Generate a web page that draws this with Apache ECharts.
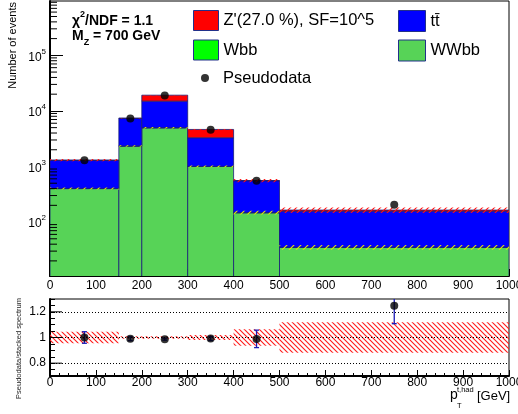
<!DOCTYPE html>
<html>
<head>
<meta charset="utf-8">
<script src="https://cdn.jsdelivr.net/npm/echarts@6/dist/echarts.min.js"></script>
<style>
html, body { margin: 0; padding: 0; background: #fff; overflow: hidden; }
#chart { width: 518px; height: 414px; }
</style>
</head>
<body>
<div id="chart"></div>
<script>
// Bin edges in p_T^{t,had} [GeV]
const binEdges = [0, 150, 200, 300, 400, 500, 1000];

// Stacked yields per bin (bottom to top)
const wwbbYield   = [400, 2330, 4970, 1000, 147, 35];
const wbbYield    = [3, 12, 25, 6, 1, 0.3];
const ttbarYield  = [885, 4990, 10000, 2274, 405, 121];
const zprimeYield = [12, 70, 4200, 1360, 6, 8];

// Pseudodata (bin centres and counts)
const dataX     = [75, 175, 250, 350, 450, 750];
const dataYield = [1300, 7330, 18950, 4600, 553, 205];

// Relative uncertainty bands
const wwbbBandRel  = [0.04, 0.03, 0.03, 0.04, 0.08, 0.10];
const totalBandRel = [0.045, 0.01, 0.01, 0.02, 0.065, 0.118];

// Statistical error on the ratio points
const ratioErr = [0.045, 0.015, 0.008, 0.015, 0.068, 0.14];

// Axis ranges and labelled ratio ticks
const yMin = 10.7, yMax = 9.5e5;
const ratioMin = 0.7, ratioMax = 1.3;
const ratioLabels = [0.8, 1, 1.2];

const FONT = "'Liberation Sans', Arial, Helvetica, sans-serif";
const nBins = binEdges.length - 1;

// ---- derived stacks ----
function stackLayer(values, below) {
  const out = [];
  for (let i = 0; i < nBins; i++) {
    const lo = below ? below[i] : yMin * 0.5;
    out.push([binEdges[i], binEdges[i + 1], lo, (below ? below[i] : 0) + values[i]]);
  }
  return out;
}
const layerWWbb = stackLayer(wwbbYield, null);
const topWWbb = layerWWbb.map(d => d[3]);
const layerWbb = stackLayer(wbbYield, topWWbb);
const topWbb = layerWbb.map(d => d[3]);
const layerTt = stackLayer(ttbarYield, topWbb);
const topTt = layerTt.map(d => d[3]);
const layerZ = stackLayer(zprimeYield, topTt);
const total = layerZ.map(d => d[3]);

const bandWWbb = topWbb.map((v, i) => [binEdges[i], binEdges[i + 1], v * (1 - wwbbBandRel[i]), v * (1 + wwbbBandRel[i])]);
const bandTotal = total.map((v, i) => [binEdges[i], binEdges[i + 1], v * (1 - totalBandRel[i]), v * (1 + totalBandRel[i])]);
const ratioBand = totalBandRel.map((r, i) => [binEdges[i], binEdges[i + 1], 1 - r, 1 + r]);
const ratioPts = dataX.map((x, i) => [x, dataYield[i] / total[i]]);
const ratioErrPts = ratioPts.map((p, i) => [p[0], p[1] - ratioErr[i], p[1] + ratioErr[i]]);

// minor ticks of the log axis: 2..9 x 10^n
const logMinor = [];
for (let e = 1; e <= 5; e++) {
  for (let k = 2; k <= 9; k++) {
    const v = k * Math.pow(10, e);
    if (v > yMin && v < yMax) logMinor.push([0, v]);
  }
}

// hatch pattern tiles
function hatch(color, size, forward) {
  const c = document.createElement('canvas');
  c.width = c.height = size;
  const g = c.getContext('2d');
  g.strokeStyle = color;
  g.lineWidth = 1.1;
  g.beginPath();
  if (forward) {
    g.moveTo(0, size); g.lineTo(size, 0);
    g.moveTo(-1, 1); g.lineTo(1, -1);
    g.moveTo(size - 1, size + 1); g.lineTo(size + 1, size - 1);
  } else {
    g.moveTo(0, 0); g.lineTo(size, size);
    g.moveTo(size - 1, -1); g.lineTo(size + 1, 1);
    g.moveTo(-1, size - 1); g.lineTo(1, size + 1);
  }
  g.stroke();
  return c;
}
const yellowHatch = hatch('#e6e600', 7, true);
const redHatchMain = hatch('#ff1010', 6, true);
const redHatchRatio = hatch('#ff1a1a', 5, false);

function rectRender(styleFn) {
  return function (params, api) {
    const a = api.coord([api.value(0), api.value(3)]);
    const b = api.coord([api.value(1), api.value(2)]);
    return {
      type: 'rect',
      shape: { x: a[0], y: a[1], width: b[0] - a[0], height: b[1] - a[1] },
      style: styleFn(api)
    };
  };
}
const stackStyle = api => ({ fill: api.visual('color'), stroke: 'rgba(25,30,120,0.8)', lineWidth: 1 });

function stackSeries(name, color, data, z) {
  return {
    name: name, type: 'custom', xAxisIndex: 0, yAxisIndex: 0,
    itemStyle: { color: color }, clip: true, z: z,
    encode: { x: [0, 1], y: [2, 3] },
    renderItem: rectRender(stackStyle),
    data: data
  };
}

const chart = echarts.init(document.getElementById('chart'), null, { renderer: 'canvas', width: 518, height: 414 });

const axisText = { color: '#000', fontFamily: FONT, fontSize: 12 };
const legendText = { color: '#000', fontFamily: FONT, fontSize: 16.5, lineHeight: 20 };
const legendBorder = { borderColor: '#22308a', borderWidth: 1 };
const zName = "Z'(27.0 %), SF=10^5";
const ttName = 't\u0074\u0304';
const plainNum = v => String(Math.round(v));

chart.setOption({
  animation: false,
  backgroundColor: '#fff',
  textStyle: { fontFamily: FONT },
  grid: [
    { left: 50, right: 9, top: 1, height: 275, show: true, borderColor: '#000', borderWidth: 1, containLabel: false, outerBoundsMode: 'none' },
    { left: 50, right: 9, top: 299, height: 77, show: true, borderColor: '#000', borderWidth: 1, containLabel: false, outerBoundsMode: 'none' }
  ],
  legend: [
    {
      left: 188, top: 5, orient: 'vertical', itemWidth: 25, itemHeight: 20, itemGap: 8.5,
      textStyle: legendText, selectedMode: false,
      data: [
        { name: zName, icon: 'rect', itemStyle: legendBorder },
        { name: 'Wbb', icon: 'rect', itemStyle: legendBorder }
      ]
    },
    {
      left: 393, top: 5, orient: 'vertical', itemWidth: 27, itemHeight: 21, itemGap: 7.5,
      textStyle: legendText, selectedMode: false,
      data: [
        { name: ttName, icon: 'rect', itemStyle: legendBorder },
        { name: 'WWbb', icon: 'rect', itemStyle: legendBorder }
      ]
    },
    {
      left: 196, top: 63, itemWidth: 8, itemHeight: 8, selectedMode: false,
      textStyle: Object.assign({}, legendText, { padding: [0, 0, 0, 9] }),
      data: [{ name: 'Pseudodata', icon: 'circle' }]
    }
  ],
  xAxis: [
    {
      type: 'value', gridIndex: 0, min: 0, max: 1000, interval: 100,
      axisLine: { show: true, onZero: false, lineStyle: { color: '#000', width: 2 } },
      axisTick: { inside: true, length: 7, lineStyle: { color: '#000' } },
      minorTick: { show: true, splitNumber: 5, length: 4, lineStyle: { color: '#000' } },
      axisLabel: Object.assign({ margin: 4, showMaxLabel: true, hideOverlap: false, formatter: plainNum }, axisText),
      splitLine: { show: false }
    },
    {
      type: 'value', gridIndex: 1, min: 0, max: 1000, interval: 100,
      axisLine: { show: true, onZero: false, lineStyle: { color: '#000', width: 2 } },
      axisTick: { inside: true, length: 6, lineStyle: { color: '#000' } },
      minorTick: { show: true, splitNumber: 5, length: 3, lineStyle: { color: '#000' } },
      axisLabel: Object.assign({ margin: 1, showMaxLabel: true, hideOverlap: false, formatter: plainNum }, axisText),
      splitLine: { show: false }
    }
  ],
  yAxis: [
    {
      type: 'log', gridIndex: 0, logBase: 10, min: yMin, max: yMax,
      axisLine: { show: true, lineStyle: { color: '#000', width: 2 } },
      axisTick: { inside: true, length: 13, lineStyle: { color: '#000' } },
      axisLabel: {
        margin: 4, showMinLabel: false, showMaxLabel: false, color: '#000',
        formatter: v => '{b|10}{s|' + Math.round(Math.log10(v)) + '}',
        rich: {
          b: { fontFamily: FONT, fontSize: 12, lineHeight: 16, verticalAlign: 'bottom', color: '#000' },
          s: { fontFamily: FONT, fontSize: 8, lineHeight: 6, verticalAlign: 'top', color: '#000' }
        }
      },
      splitLine: { show: false }
    },
    {
      type: 'value', gridIndex: 1, min: ratioMin, max: ratioMax, interval: 0.1,
      axisLine: { show: true, lineStyle: { color: '#000', width: 2 } },
      axisTick: { inside: true, length: 5, lineStyle: { color: '#000' } },
      minorTick: { show: true, splitNumber: 2, length: 5, lineStyle: { color: '#000' } },
      axisLabel: Object.assign({
        margin: 4,
        formatter: v => {
          const r = Math.round(v * 100) / 100;
          return ratioLabels.indexOf(r) >= 0 ? String(r) : '';
        }
      }, axisText),
      splitLine: { show: false }
    }
  ],
  graphic: [
    {
      type: 'text', x: 13, y: 2, rotation: Math.PI / 2,
      style: { text: 'Number of events', fontFamily: FONT, fontSize: 11, fill: '#000', align: 'right', verticalAlign: 'middle' }
    },
    {
      type: 'text', x: 19, y: 298, rotation: Math.PI / 2,
      style: { text: 'Pseudodata/stacked spectrum', fontFamily: FONT, fontSize: 7.5, fill: '#222', align: 'right', verticalAlign: 'middle' }
    },
    {
      type: 'text', x: 72, y: 19,
      style: {
        text: '{m|\u03c7}{s|2}{m|/NDF = 1.1}', align: 'left', verticalAlign: 'middle',
        rich: {
          m: { fontFamily: FONT, fontSize: 14, fontWeight: 'bold', lineHeight: 18, verticalAlign: 'bottom', color: '#000' },
          s: { fontFamily: FONT, fontSize: 9, fontWeight: 'bold', lineHeight: 8, verticalAlign: 'top', color: '#000' }
        }
      }
    },
    {
      type: 'text', x: 72, y: 38,
      style: {
        text: '{m|M}{s|Z}{m| = 700 GeV}', align: 'left', verticalAlign: 'middle',
        rich: {
          m: { fontFamily: FONT, fontSize: 14, fontWeight: 'bold', lineHeight: 18, verticalAlign: 'top', color: '#000' },
          s: { fontFamily: FONT, fontSize: 9, fontWeight: 'bold', lineHeight: 8, verticalAlign: 'bottom', color: '#000' }
        }
      }
    },
    {
      type: 'text', x: 450, y: 395,
      style: { text: 'p', fontFamily: FONT, fontSize: 14, fill: '#000', align: 'left', verticalAlign: 'middle' }
    },
    {
      type: 'text', x: 457, y: 390,
      style: { text: 't,had', fontFamily: FONT, fontSize: 7.5, fill: '#000', align: 'left', verticalAlign: 'middle' }
    },
    {
      type: 'text', x: 457, y: 406,
      style: { text: 'T', fontFamily: FONT, fontSize: 7.5, fill: '#000', align: 'left', verticalAlign: 'middle' }
    },
    {
      type: 'text', x: 477, y: 396,
      style: { text: '[GeV]', fontFamily: FONT, fontSize: 13, fill: '#000', align: 'left', verticalAlign: 'middle' }
    }
  ],
  series: [
    stackSeries('WWbb', '#57d357', layerWWbb, 2),
    stackSeries('Wbb', '#00ff00', layerWbb, 2),
    stackSeries(ttName, '#0000ff', layerTt, 2),
    stackSeries(zName, '#ff0000', layerZ, 2),
    {
      name: 'wwbb-band', type: 'custom', xAxisIndex: 0, yAxisIndex: 0, clip: true, z: 3,
      encode: { x: [0, 1], y: [2, 3] },
      renderItem: rectRender(() => ({ fill: { image: yellowHatch, repeat: 'repeat' } })),
      data: bandWWbb
    },
    {
      name: 'total-band', type: 'custom', xAxisIndex: 0, yAxisIndex: 0, clip: true, z: 3,
      encode: { x: [0, 1], y: [2, 3] },
      renderItem: rectRender(() => ({ fill: { image: redHatchMain, repeat: 'repeat' } })),
      data: bandTotal
    },
    {
      name: 'log-minor-ticks', type: 'custom', xAxisIndex: 0, yAxisIndex: 0, clip: true, z: 4, silent: true,
      encode: { x: 0, y: 1 },
      renderItem: function (params, api) {
        const p = api.coord([api.value(0), api.value(1)]);
        return { type: 'line', shape: { x1: p[0], y1: p[1], x2: p[0] + 7, y2: p[1] }, style: { stroke: '#000', lineWidth: 1 } };
      },
      data: logMinor
    },
    {
      name: 'Pseudodata', type: 'scatter', xAxisIndex: 0, yAxisIndex: 0, z: 5,
      symbol: 'circle', symbolSize: 8, itemStyle: { color: '#000' },
      data: dataX.map((x, i) => [x, dataYield[i]])
    },
    // ratio panel
    {
      name: 'ratio-band', type: 'custom', xAxisIndex: 1, yAxisIndex: 1, clip: true, z: 2,
      encode: { x: [0, 1], y: [2, 3] },
      renderItem: rectRender(() => ({ fill: { image: redHatchRatio, repeat: 'repeat' } })),
      data: ratioBand,
      markLine: {
        silent: true, symbol: 'none', label: { show: false },
        lineStyle: { color: '#000', width: 1, type: [1, 2] },
        data: ratioLabels.map(v => ({ yAxis: v }))
      }
    },
    {
      name: 'ratio-major-ticks', type: 'custom', xAxisIndex: 1, yAxisIndex: 1, clip: true, z: 4, silent: true,
      encode: { x: 0, y: 1 },
      renderItem: function (params, api) {
        const p = api.coord([api.value(0), api.value(1)]);
        return { type: 'line', shape: { x1: p[0], y1: p[1], x2: p[0] + 12, y2: p[1] }, style: { stroke: '#000', lineWidth: 1 } };
      },
      data: ratioLabels.map(v => [0, v])
    },
    {
      name: 'ratio-errors', type: 'custom', xAxisIndex: 1, yAxisIndex: 1, clip: true, z: 4,
      encode: { x: 0, y: [1, 2] },
      renderItem: function (params, api) {
        const lo = api.coord([api.value(0), api.value(1)]);
        const hi = api.coord([api.value(0), api.value(2)]);
        const st = { stroke: '#1a1ab4', lineWidth: 1.3 };
        return {
          type: 'group',
          children: [
            { type: 'line', shape: { x1: lo[0], y1: lo[1], x2: hi[0], y2: hi[1] }, style: st },
            { type: 'line', shape: { x1: lo[0] - 2.5, y1: lo[1], x2: lo[0] + 2.5, y2: lo[1] }, style: st },
            { type: 'line', shape: { x1: hi[0] - 2.5, y1: hi[1], x2: hi[0] + 2.5, y2: hi[1] }, style: st }
          ]
        };
      },
      data: ratioErrPts
    },
    {
      name: 'ratio-points', type: 'scatter', xAxisIndex: 1, yAxisIndex: 1, z: 5,
      symbol: 'circle', symbolSize: 8, itemStyle: { color: '#000' },
      data: ratioPts
    }
  ]
});
</script>
</body>
</html>
